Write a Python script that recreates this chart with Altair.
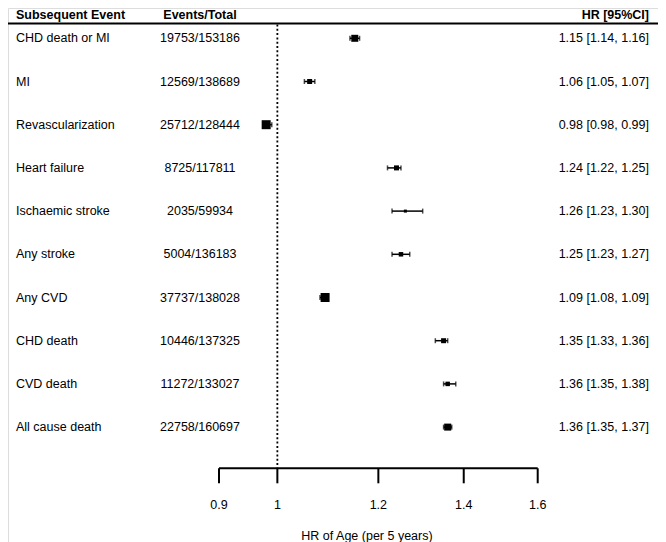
import altair as alt
import pandas as pd

# ---- data ----
events = ["CHD death or MI", "MI", "Revascularization", "Heart failure",
          "Ischaemic stroke", "Any stroke", "Any CVD", "CHD death",
          "CVD death", "All cause death"]
counts = ["19753/153186", "12569/138689", "25712/128444", "8725/117811",
          "2035/59934", "5004/136183", "37737/138028", "10446/137325",
          "11272/133027", "22758/160697"]
hr = [1.15, 1.06, 0.98, 1.24, 1.26, 1.25, 1.09, 1.35, 1.36, 1.36]
lo = [1.14, 1.05, 0.98, 1.22, 1.23, 1.23, 1.08, 1.33, 1.35, 1.35]
hi = [1.16, 1.07, 0.99, 1.25, 1.30, 1.27, 1.09, 1.36, 1.38, 1.37]
# relative marker weight (box side), as drawn in the reference
weight = [7, 5, 9, 5, 3, 4.5, 9, 5, 4.5, 7]
ticks = [0.9, 1, 1.2, 1.4, 1.6]
ref_line = [1]

# ---- styling / layout ----
FONT = "Liberation Sans"
FS = 12.5
W, H = 650, 534
HEADER_Y = 11
HEADER_LINE_Y = 15.5
AXIS_Y = 460.3
TICK_END = 475.3
TICK_LABEL_Y = 497
TITLE_Y = 528

df = pd.DataFrame({
    "event": events, "count": counts, "hr": hr, "lo": lo, "hi": hi,
    "area": [w * w for w in weight],
    "label": [f"{h:.2f} [{l:.2f}, {u:.2f}]" for h, l, u in zip(hr, lo, hi)],
})
tick_df = pd.DataFrame({"t": ticks, "lab": [f"{t:g}" for t in ticks]})
ref_df = pd.DataFrame({"r": ref_line})
axis_df = pd.DataFrame({"a": [min(ticks)], "b": [max(ticks)]})

xscale = alt.Scale(type="log", domain=[0.9, 1.6], range=[211, 529.7], nice=False, zero=False)
yscale = alt.Scale(type="point", domain=events, range=[30.3, 30.3 + 43.2 * 9], padding=0)

X = lambda f: alt.X(f, type="quantitative", scale=xscale, axis=None)
Y = alt.Y("event:N", scale=yscale, axis=None)

base = alt.Chart(df)

ci = base.mark_rule(color="black", strokeWidth=1.5).encode(x=X("lo"), x2="hi", y=Y)
cap_lo = base.mark_tick(color="black", size=5, thickness=1.5).encode(x=X("lo"), y=Y)
cap_hi = base.mark_tick(color="black", size=5, thickness=1.5).encode(x=X("hi"), y=Y)
boxes = base.mark_square(color="black", opacity=1, filled=True).encode(
    x=X("hr"), y=Y, size=alt.Size("area:Q", scale=None, legend=None))

txt_kw = dict(font=FONT, fontSize=FS, color="black", baseline="middle")
col_event = base.mark_text(align="left", **txt_kw).encode(
    x=alt.value(8), y=Y, text="event:N")
col_count = base.mark_text(align="center", **txt_kw).encode(
    x=alt.value(192), y=Y, text="count:N")
col_hr = base.mark_text(align="right", **txt_kw).encode(
    x=alt.value(641), y=Y, text="label:N")

hdr_kw = dict(font=FONT, fontSize=FS, fontWeight="bold", color="black", baseline="alphabetic")
hdr_df = pd.DataFrame({"h": ["Subsequent Event", "Events/Total", "HR [95%CI]"],
                       "x": [8, 192, 641], "al": ["left", "center", "right"]})
hdr1 = alt.Chart(hdr_df.iloc[[0]]).mark_text(align="left", **hdr_kw).encode(
    x=alt.value(8), y=alt.value(HEADER_Y), text="h:N")
hdr2 = alt.Chart(hdr_df.iloc[[1]]).mark_text(align="center", **hdr_kw).encode(
    x=alt.value(192), y=alt.value(HEADER_Y), text="h:N")
hdr3 = alt.Chart(hdr_df.iloc[[2]]).mark_text(align="right", **hdr_kw).encode(
    x=alt.value(641), y=alt.value(HEADER_Y), text="h:N")
hdr_line = alt.Chart(ref_df).mark_rule(color="black", strokeWidth=2).encode(
    x=alt.value(0), x2=alt.value(W), y=alt.value(HEADER_LINE_Y))

dotted = alt.Chart(ref_df).mark_rule(color="black", strokeWidth=1.8, strokeDash=[2, 2.3]).encode(
    x=X("r"), y=alt.value(HEADER_LINE_Y + 1), y2=alt.value(AXIS_Y))

axis_line = alt.Chart(axis_df).mark_rule(color="black", strokeWidth=2).encode(
    x=X("a"), x2="b", y=alt.value(AXIS_Y))
axis_ticks = alt.Chart(tick_df).mark_rule(color="black", strokeWidth=2).encode(
    x=X("t"), y=alt.value(AXIS_Y), y2=alt.value(TICK_END))
axis_labels = alt.Chart(tick_df).mark_text(font=FONT, fontSize=FS, color="black",
                                           baseline="middle", align="center").encode(
    x=X("t"), y=alt.value(TICK_LABEL_Y), text="lab:N")
axis_title = alt.Chart(ref_df).mark_text(font=FONT, fontSize=FS, color="black",
                                         baseline="middle", align="center").encode(
    x=alt.value(359), y=alt.value(TITLE_Y), text=alt.value("HR of Age (per 5 years)"))

chart = alt.layer(
    hdr_line, dotted, ci, cap_lo, cap_hi, boxes,
    col_event, col_count, col_hr, hdr1, hdr2, hdr3,
    axis_line, axis_ticks, axis_labels, axis_title,
).properties(
    width=W, height=H, padding=0,
    autosize=alt.AutoSizeParams(type="none"),
).configure_view(stroke=None).configure(background="white")

chart.save("out.html", embed_options={"renderer": "svg", "actions": False})
